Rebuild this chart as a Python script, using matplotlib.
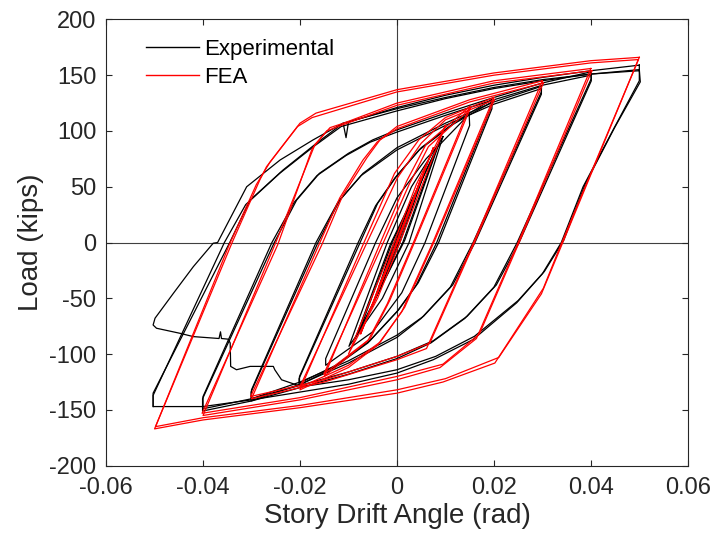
import matplotlib
matplotlib.use('Agg')
import matplotlib.pyplot as plt
import numpy as np
from matplotlib.lines import Line2D

plt.rcParams['font.family'] = ['Liberation Sans', 'DejaVu Sans']
plt.rcParams['axes.unicode_minus'] = False

# ---- experimental loops (drift rad, load kips) ----
exp_00375 = [(0.0040, 45), (0.0003, 0), (-0.0040, -44), (-0.0003, 0), (0.0040, 45)]
exp_005 = [(0.0055, 60), (0.0006, 0), (-0.0052, -58), (-0.0006, 0), (0.0055, 60)]
exp_0075 = [(0.0080, 82), (0.0012, 0), (-0.0078, -80), (-0.0010, 0), (0.0080, 82)]
exp_0075b = [(0.0088, 90), (0.0016, 2), (-0.0086, -86), (-0.0014, -2), (0.0088, 90)]
exp_010 = [(0.0095, 95), (0.0025, 0), (-0.0030, -50), (-0.0099, -93), (-0.0020, 0),
           (0.0030, 50), (0.0095, 95)]
exp_015 = [(0.0149, 115), (0.0150, 105), (0.0058, 0), (0.0010, -45), (-0.0050, -80),
           (-0.0147, -110), (-0.0147, -104), (-0.0044, 0), (0.0, 40), (0.0060, 75),
           (0.0149, 115)]
exp_020_c1 = [(0.0195, 128), (0.0195, 122), (0.0082, 0), (0.0040, -38), (0.0, -62),
              (-0.0060, -90), (-0.0130, -112), (-0.0202, -128), (-0.0202, -122),
              (-0.0076, 0), (-0.0040, 35), (0.0, 60), (0.0050, 85), (0.0120, 108),
              (0.0195, 128)]
exp_020_c2 = [(0.0196, 126), (0.0196, 120), (0.0086, 0), (0.0044, -36), (0.0004, -60),
              (-0.0056, -88), (-0.0126, -110), (-0.0201, -126), (-0.0201, -120),
              (-0.0080, 0), (-0.0044, 33), (-0.0004, 58), (0.0046, 83), (0.0116, 106),
              (0.0196, 126)]
exp_030_c1 = [(0.0298, 140), (0.0298, 135), (0.0157, 0), (0.0110, -40), (0.0050, -68),
              (0.0, -85), (-0.0100, -108), (-0.0200, -127), (-0.0301, -142),
              (-0.0301, -134), (-0.0163, 0), (-0.0118, 38), (-0.0070, 62), (0.0, 85),
              (0.0100, 107), (0.0200, 126), (0.0298, 140)]
exp_030_c2 = [(0.0298, 138), (0.0298, 133), (0.0161, 0), (0.0115, -38), (0.0055, -66),
              (0.0, -83), (-0.0100, -106), (-0.0200, -125), (-0.0300, -140),
              (-0.0300, -132), (-0.0167, 0), (-0.0122, 36), (-0.0074, 60), (0.0, 83),
              (0.0100, 105), (0.0200, 124), (0.0298, 138)]
exp_040_c1 = [(0.0400, 153), (0.0401, 147), (0.0248, 0), (0.0200, -40), (0.0140, -68),
              (0.0070, -90), (0.0, -104), (-0.0100, -118), (-0.0200, -130),
              (-0.0300, -142), (-0.0401, -151), (-0.0401, -140), (-0.0253, 0),
              (-0.0207, 38), (-0.0160, 62), (-0.0100, 80), (-0.0050, 92), (0.0, 101),
              (0.0100, 116), (0.0200, 130), (0.0300, 143), (0.0400, 153)]
exp_040_c2 = [(0.0400, 150), (0.0401, 145), (0.0252, 0), (0.0205, -38), (0.0145, -66),
              (0.0075, -88), (0.0, -102), (-0.0100, -116), (-0.0200, -128),
              (-0.0300, -140), (-0.0400, -149), (-0.0400, -138), (-0.0258, 0),
              (-0.0212, 36), (-0.0165, 60), (-0.0105, 78), (-0.0055, 90), (0.0, 99),
              (0.0100, 114), (0.0200, 128), (0.0300, 141), (0.0400, 150)]
exp_050_c1 = [(0.0500, 159), (0.0500, 145), (0.0446, 101), (0.0384, 50), (0.0339, 0),
              (0.0300, -28), (0.0247, -54), (0.0157, -87), (0.0075, -105), (0.0, -117),
              (-0.0100, -127), (-0.0200, -134), (-0.0300, -141), (-0.0400, -147),
              (-0.0503, -147), (-0.0503, -135), (-0.0345, 0), (-0.0303, 38),
              (-0.0235, 65), (-0.0166, 89), (-0.0111, 107), (-0.0105, 94),
              (-0.0100, 108), (0.0, 121), (0.0100, 132), (0.0200, 141), (0.0300, 148),
              (0.0400, 154), (0.0500, 159)]
exp_050_c2 = [(-0.0503, -147), (-0.0503, -137), (-0.0356, 0), (-0.0312, 34),
              (-0.0242, 62), (-0.0172, 86), (-0.0115, 104), (0.0, 118), (0.0100, 129),
              (0.0200, 138), (0.0300, 145), (0.0400, 151), (0.0500, 155)]
exp_final = [(0.0500, 155), (0.0502, 144), (0.0449, 103), (0.0388, 52), (0.0344, 2),
             (0.0304, -26), (0.0250, -52), (0.0160, -84), (0.0080, -102), (0.0, -114),
             (-0.0100, -123), (-0.0193, -129), (-0.0207, -127.6), (-0.0238, -123),
             (-0.0252, -114), (-0.0255, -111), (-0.0303, -111), (-0.0331, -114),
             (-0.0343, -111), (-0.0344, -90), (-0.0348, -86.6), (-0.0362, -86),
             (-0.0364, -80), (-0.0367, -86), (-0.0420, -84.3), (-0.0448, -81.3),
             (-0.0496, -76.8), (-0.0503, -73.9), (-0.0499, -67.8), (-0.0461, -45.4),
             (-0.0420, -21.6), (-0.0379, -0.6), (-0.0370, 0), (-0.0310, 50),
             (-0.0241, 74), (-0.0173, 92), (-0.0111, 107), (0.0, 120), (0.0100, 130),
             (0.0200, 139), (0.0300, 146), (0.0400, 151), (0.0500, 154)]

# ---- FEA loops ----
fea_00375 = [(0.00375, 42), (0.0001, 2), (-0.00375, -40), (-0.0001, -2), (0.00375, 42)]
fea_005 = [(0.0050, 58), (0.0002, 2), (-0.0050, -56), (-0.0002, -2), (0.0050, 58)]
fea_0075 = [(0.0075, 85), (0.0004, 3), (-0.0075, -82), (-0.0004, -3), (0.0075, 85)]
fea_010 = [(0.0100, 105), (0.0006, 0), (-0.0040, -50), (-0.0100, -100), (-0.0006, 0),
           (0.0040, 52), (0.0100, 105)]
fea_015_c1 = [(0.0150, 122), (0.0034, 0), (-0.0020, -55), (-0.0060, -88),
              (-0.0150, -120), (-0.0034, 0), (0.0020, 55), (0.0060, 88), (0.0150, 122)]
fea_015_c2 = [(0.0151, 120), (0.0038, 2), (-0.0015, -52), (-0.0055, -86),
              (-0.0151, -118), (-0.0030, -2), (0.0025, 52), (0.0065, 86), (0.0151, 120)]
fea_020_c1 = [(0.0200, 130), (0.0074, 0), (0.0010, -62), (-0.0040, -92),
              (-0.0100, -112), (-0.0200, -132), (-0.0068, 0), (-0.0005, 62),
              (0.0045, 92), (0.0100, 112), (0.0200, 130)]
fea_020_c2 = [(0.0201, 128), (0.0078, 2), (0.0016, -58), (-0.0034, -89),
              (-0.0100, -110), (-0.0201, -130), (-0.0064, -2), (0.0001, 58),
              (0.0050, 89), (0.0100, 110), (0.0201, 128)]
fea_030_c1 = [(0.0300, 145), (0.0158, 0), (0.0061, -95), (0.0, -105), (-0.0150, -125),
              (-0.0300, -140), (-0.0159, 0), (-0.0118, 40), (-0.0070, 74),
              (-0.0041, 90), (0.0, 104), (0.0150, 128), (0.0300, 145)]
fea_030_c2 = [(0.0302, 143), (0.0162, 2), (0.0068, -90), (0.0, -102), (-0.0150, -123),
              (-0.0302, -138), (-0.0155, -2), (-0.0112, 42), (-0.0062, 76),
              (-0.0035, 92), (0.0, 102), (0.0150, 126), (0.0302, 143)]
fea_040_c1 = [(0.0400, 156), (0.0250, 0), (0.0164, -86), (0.0089, -112), (0.0, -123),
              (-0.0200, -141), (-0.0400, -155), (-0.0250, 0), (-0.0169, 88),
              (-0.0138, 103), (-0.0110, 107), (0.0, 125), (0.0200, 145), (0.0400, 156)]
fea_040_c2 = [(0.0402, 154), (0.0254, 2), (0.0170, -82), (0.0095, -109), (0.0, -120),
              (-0.0200, -139), (-0.0402, -153), (-0.0246, -2), (-0.0175, 84),
              (-0.0145, 100), (-0.0115, 105), (0.0, 123), (0.0200, 143), (0.0402, 154)]
fea_050_c1 = [(0.0500, 166), (0.0340, 0), (0.0302, -41), (0.0202, -108),
              (0.0095, -125), (0.0, -135), (-0.0200, -148), (-0.0400, -159),
              (-0.0500, -167), (-0.0340, 0), (-0.0283, 56), (-0.0269, 68),
              (-0.0200, 107), (-0.0167, 116), (0.0, 137), (0.0200, 152), (0.0400, 163),
              (0.0500, 166)]
fea_050_c2 = [(0.0498, 164), (0.0344, 2), (0.0298, -46), (0.0210, -103),
              (0.0100, -122), (0.0, -132), (-0.0200, -146), (-0.0400, -157),
              (-0.0498, -165), (-0.0346, -2), (-0.0290, 52), (-0.0262, 72),
              (-0.0205, 104), (-0.0175, 112), (0.0, 135), (0.0200, 150), (0.0400, 161),
              (0.0498, 164)]

x_ticks = [-0.06, -0.04, -0.02, 0, 0.02, 0.04, 0.06]
x_ticklabels = ['-0.06', '-0.04', '-0.02', '0', '0.02', '0.04', '0.06']
y_ticks = [-200, -150, -100, -50, 0, 50, 100, 150, 200]

exp_loops = [exp_00375, exp_005, exp_0075, exp_0075b, exp_010, exp_015,
             exp_020_c1, exp_020_c2, exp_030_c1, exp_030_c2, exp_040_c1, exp_040_c2,
             exp_050_c1, exp_050_c2, exp_final]
fea_loops = [fea_00375, fea_005, fea_0075, fea_010, fea_015_c1, fea_015_c2,
             fea_020_c1, fea_020_c2, fea_030_c1, fea_030_c2, fea_040_c1, fea_040_c2,
             fea_050_c1, fea_050_c2]

txt = '#262626'
fig = plt.figure(figsize=(7.12, 5.39), dpi=100)
ax = fig.add_axes([0.149, 0.136, 0.817, 0.828])

ax.axhline(0, color='#404040', lw=0.8, zorder=1)
ax.axvline(0, color='#404040', lw=0.8, zorder=1)

for loop in exp_loops:
    d, l = np.array(loop).T
    ax.plot(d, l, color='k', lw=0.9, zorder=2)
for loop in fea_loops:
    d, l = np.array(loop).T
    ax.plot(d, l, color='#ff0000', lw=0.9, zorder=3)

ax.set_xlim(-0.06, 0.06)
ax.set_ylim(-200, 200)
ax.set_xticks(x_ticks)
ax.set_xticklabels(x_ticklabels)
ax.set_yticks(y_ticks)
ax.tick_params(direction='in', top=True, right=True, length=4, width=0.8,
               labelsize=17, colors=txt)
ax.tick_params(axis='x', pad=8)
ax.tick_params(axis='y', pad=7)
for s in ax.spines.values():
    s.set_color(txt)
    s.set_linewidth(0.8)
ax.set_xlabel('Story Drift Angle (rad)', fontsize=20, color=txt, labelpad=3)
ax.set_ylabel('Load (kips)', fontsize=20, color=txt, labelpad=4)

handles = [Line2D([], [], color='k', lw=1.0), Line2D([], [], color='#ff0000', lw=1.0)]
ax.legend(handles, ['Experimental', 'FEA'], loc='upper left', frameon=False,
          bbox_to_anchor=(0.069, 0.956), borderpad=0, borderaxespad=0,
          handlelength=2.39, handletextpad=0.22, labelspacing=0.31, fontsize=16)

fig.savefig('out.png', dpi=100)
